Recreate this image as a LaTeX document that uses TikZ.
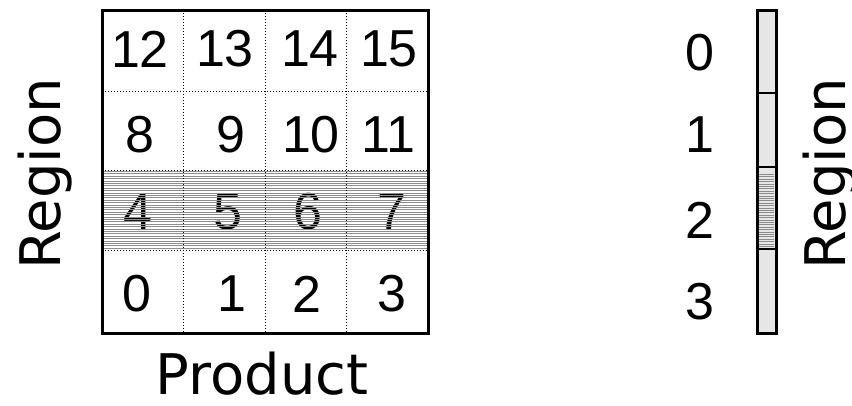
\documentclass[tikz,border=0pt]{standalone}
\usepackage{fontspec}
\newfontfamily\numfont{Liberation Sans}
\newfontfamily\labelfont{DejaVu Sans}
\usetikzlibrary{positioning}
\definecolor{barfill}{HTML}{E6E6E6}
\definecolor{hatch}{HTML}{8C8C8C}

\begin{document}
\begin{tikzpicture}[x=1pt,y=-1pt,
    num/.style={inner sep=0pt, font=\numfont\fontsize{52}{52}\selectfont},
    axislabel/.style={inner sep=0pt, font=\labelfont\fontsize{56}{56}\selectfont}]
  \clip (0,0) rectangle (852,405);
  \useasboundingbox (0,0) rectangle (852,405);
  % cells of the product x region grid
  \foreach \n/\x/\y in {12/140/49, 13/225/49, 14/310/49, 15/389/49,
                        8/140/135, 9/231/135, 10/311/135, 11/388/135,
                        4/138/212, 5/228/212, 6/308/212, 7/392/212,
                        0/137/294, 1/232/294, 2/307/294, 3/392/294}{
    \node[num] (cell\n) at (\x,\y) {\n};
  }
  \foreach \y in {171.5,173.9,...,249.5}{
    \draw[hatch, line width=0.9pt] (102,\y) -- (428,\y);
  }
  \foreach \x in {183,265,346}{
    \draw[dotted, line width=1pt] (\x,10) -- (\x,333);
  }
  \foreach \y in {91,170,250}{
    \draw[dotted, line width=1pt] (102,\y) -- (428,\y);
  }
  \draw[line width=3pt] (102,10) rectangle (428,333);
  \node[axislabel, rotate=90] (regionleft) at (45,174) {Region};
  \node[axislabel] (product) at (262,374) {Product};
  % region bar
  \fill[barfill] (757,10) rectangle (776,333);
  \foreach \y in {174.5,176.9,...,248}{
    \draw[hatch, line width=0.9pt] (759,\y) -- (774,\y);
  }
  \foreach \y in {93,167,249}{
    \draw[line width=2pt] (757,\y) -- (776,\y);
  }
  \draw[line width=3pt] (757,10) rectangle (776,333);
  \foreach \n/\y in {0/53, 1/135, 2/220, 3/302}{
    \node[num] (bar\n) at (700,\y) {\n};
  }
  \node[axislabel, rotate=90] (regionright) at (830,174) {Region};
\end{tikzpicture}
\end{document}
